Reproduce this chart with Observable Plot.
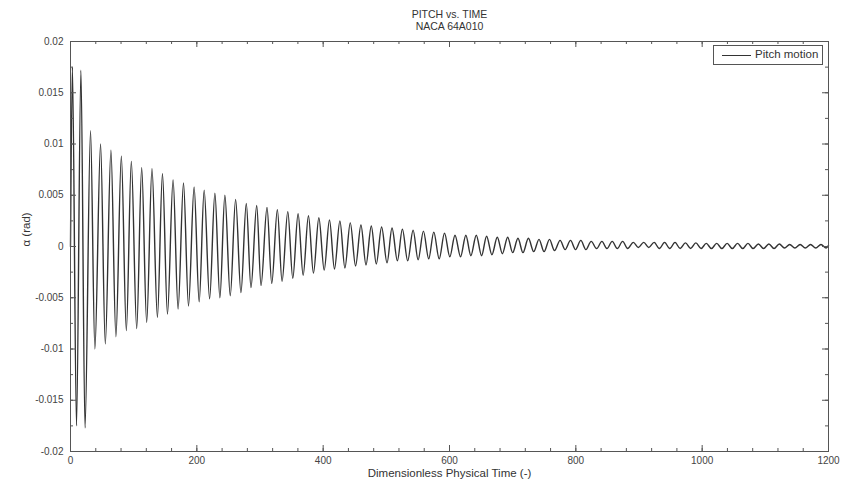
<!DOCTYPE html>
<html>
<head>
<meta charset="utf-8">
<script src="https://cdn.jsdelivr.net/npm/d3@7"></script>
<script src="https://cdn.jsdelivr.net/npm/@observablehq/plot@0.6"></script>
<style>
  html, body { margin: 0; padding: 0; background: #fff; }
  #wrap { position: relative; width: 846px; height: 485px; font-family: "Liberation Sans", Arial, sans-serif; }
  #legend { position: absolute; left: 713px; top: 45px; width: 110px; height: 20px; box-sizing: border-box;
            border: 1px solid #555; background: #fff; }
  #legend .sw { position: absolute; left: 8px; top: 9px; width: 29px; height: 0; border-top: 1.3px solid #333; }
  #legend .lb { position: absolute; left: 41px; top: 2px; font-size: 11.5px; color: #333; white-space: nowrap; }
</style>
</head>
<body>
<div id="wrap"></div>
<script>
// ---- text ----
const titleLines = ["PITCH vs. TIME", "NACA 64A010"];
const xLabel = "Dimensionless Physical Time (-)";
const yLabel = "\u03b1 (rad)";
const seriesName = "Pitch motion";

// ---- axes ----
const xTicks = [0, 200, 400, 600, 800, 1000, 1200];
const xTickLabels = ["0", "200", "400", "600", "800", "1000", "1200"];
const yTicks = [-0.02, -0.015, -0.01, -0.005, 0, 0.005, 0.01, 0.015, 0.02];
const yTickLabels = ["-0.02", "-0.015", "-0.01", "-0.005", "0", "0.005", "0.01", "0.015", "0.02"];

// ---- series: start/end and the extrema (peaks / troughs) ----
const startPoint = {t: 0, v: 0};
const endPoint = {t: 1200, v: 0.0001};
const peakTimes = [3, 16.5, 31.7, 47.6, 64.0, 80.5, 96.3, 112.7, 129.0, 145.6, 162.4, 178.9, 195.7, 211.6,
  228.6, 244.4, 261.4, 278.3, 294.8, 311.1, 327.5, 344.0, 360.3, 376.7, 393.2, 410.0, 426.5, 442.9,
  459.8, 476.2, 492.5, 509.0, 525.4, 542.4, 558.7, 575.1, 592.1, 608.7, 625.9, 642.4, 658.7, 675.7,
  692.1, 708.4, 724.9, 741.7, 758.3, 775.1, 791.6, 807.9, 824.3, 841.3, 857.6, 874.1, 891.0, 907.5,
  924.0, 940.5, 957.0, 973.5, 990.0, 1006.5, 1023.0, 1039.5, 1056.0, 1072.5, 1089.0, 1105.6, 1122.1,
  1138.6, 1155.1, 1171.6, 1188.1];
const peakValues = [0.0175, 0.0172, 0.0113, 0.0100, 0.0094, 0.0088, 0.0083, 0.0077, 0.0076, 0.0071,
  0.0065, 0.0062, 0.0058, 0.0055, 0.0052, 0.0050, 0.0046, 0.0042, 0.0040, 0.0038, 0.0036, 0.0034,
  0.0032, 0.0030, 0.0028, 0.0026, 0.0025, 0.0023, 0.0021, 0.0020, 0.0019, 0.0018, 0.0017, 0.0016,
  0.0015, 0.0014, 0.0013, 0.0011, 0.0011, 0.0011, 0.0010, 0.0009, 0.0009, 0.0008, 0.0008, 0.0007,
  0.0007, 0.0006, 0.0006, 0.0006, 0.0005, 0.0005, 0.0005, 0.0005, 0.0004, 0.0004, 0.0004, 0.0004,
  0.0004, 0.00035, 0.00035, 0.0003, 0.0003, 0.0003, 0.0003, 0.0003, 0.00025, 0.00025, 0.00025,
  0.0002, 0.0002, 0.0002, 0.0002];
const troughTimes = [9.5, 23, 38.6, 55.1, 71.9, 88.4, 104.8, 120.6, 137.6, 153.5, 170.3, 186.8, 203.7,
  220.2, 236.5, 252.9, 269.8, 285.7, 301.6, 318.6, 334.9, 351.9, 368.3, 384.6, 401.6, 417.9, 434.4,
  451.3, 467.8, 484.1, 501.1, 517.5, 533.8, 550.3, 567.1, 583.7, 600.5, 617.5, 633.8, 650.8, 667.1,
  683.7, 700.0, 716.3, 733.3, 749.7, 766.2, 783.0, 799.5, 815.9, 832.9, 849.2, 865.6, 882.1, 898.9,
  915.4, 932.2, 948.7, 965.2, 981.7, 998.2, 1014.7, 1031.2, 1047.7, 1064.2, 1080.7, 1097.2, 1113.8,
  1130.3, 1146.8, 1163.3, 1179.8, 1196.3];
const troughValues = [-0.0175, -0.0177, -0.0100, -0.0095, -0.0088, -0.0082, -0.0080, -0.0074, -0.0069,
  -0.0066, -0.0061, -0.0058, -0.0054, -0.0051, -0.0050, -0.0048, -0.0045, -0.0040, -0.0038, -0.0036,
  -0.0034, -0.0031, -0.0028, -0.0026, -0.0023, -0.0022, -0.0021, -0.0019, -0.0018, -0.0017, -0.0016,
  -0.0014, -0.0014, -0.0013, -0.0012, -0.0012, -0.0010, -0.0010, -0.0009, -0.0009, -0.0008, -0.0007,
  -0.0006, -0.0006, -0.0005, -0.0005, -0.0004, -0.0003, -0.0003, -0.0003, -0.0002, -0.0002, -0.0002,
  -0.0002, -0.0001, -0.0001, -0.0002, -0.0002, -0.0002, -0.0002, -0.0002, -0.0002, -0.0002, -0.0002,
  -0.0002, -0.0002, -0.0002, -0.0002, -0.00015, -0.00015, -0.00015, -0.00015, -0.00015];

// build the table for the line mark
const points = [startPoint]
  .concat(peakTimes.map((t, i) => ({t, v: peakValues[i]})))
  .concat(troughTimes.map((t, i) => ({t, v: troughValues[i]})))
  .concat([endPoint])
  .sort((a, b) => a.t - b.t);

const W = 846, H = 485;
const mL = 70, mR = 18, mT = 41, mB = 34;
const fw = W - mL - mR, fh = H - mT - mB;
const axisColor = "#555";
const xMinor = d3.range(0, 1201, 40);
const yMinor = d3.range(-8, 9).map(k => k * 0.0025);

const chart = Plot.plot({
  width: W, height: H,
  marginLeft: mL, marginRight: mR, marginTop: mT, marginBottom: mB,
  style: {fontFamily: "'Liberation Sans', Arial, sans-serif", background: "#fff"},
  x: {domain: [0, 1200], label: null},
  y: {domain: [-0.02, 0.02], label: null},
  marks: [
    Plot.line(points, {x: "t", y: "v", curve: "monotone-x", stroke: "#333", strokeWidth: 1.4}),
    Plot.frame({stroke: axisColor, strokeWidth: 1}),
    // inward minor ticks
    Plot.ruleX(xMinor, {x: d => d, insetTop: fh - 3, stroke: axisColor}),
    Plot.ruleX(xMinor, {x: d => d, insetBottom: fh - 3, stroke: axisColor}),
    Plot.ruleY(yMinor, {y: d => d, insetRight: fw - 3, stroke: axisColor}),
    Plot.ruleY(yMinor, {y: d => d, insetLeft: fw - 3, stroke: axisColor}),
    // inward major ticks
    Plot.ruleX(xTicks, {x: d => d, insetTop: fh - 6, stroke: axisColor}),
    Plot.ruleX(xTicks, {x: d => d, insetBottom: fh - 6, stroke: axisColor}),
    Plot.ruleY(yTicks, {y: d => d, insetRight: fw - 6, stroke: axisColor}),
    Plot.ruleY(yTicks, {y: d => d, insetLeft: fw - 6, stroke: axisColor}),
    // tick labels
    Plot.axisX(xTicks, {anchor: "bottom", tickSize: 0, tickPadding: 5, label: null,
      tickFormat: d => xTickLabels[xTicks.indexOf(d)], fontSize: 10, fill: "#444"}),
    Plot.axisY(yTicks, {anchor: "left", tickSize: 0, tickPadding: 7, label: null,
      tickFormat: d => yTickLabels[yTicks.indexOf(d)], fontSize: 10, fill: "#444"}),
    // titles and axis labels
    Plot.text([titleLines[0]], {frameAnchor: "top", dy: -31, fontSize: 10.5, fill: "#333"}),
    Plot.text([titleLines[1]], {frameAnchor: "top", dy: -19, fontSize: 10.5, fill: "#333"}),
    Plot.text([xLabel], {frameAnchor: "bottom", dy: 25, fontSize: 11.5, fill: "#333"}),
    Plot.text([yLabel], {frameAnchor: "left", dx: -44, rotate: -90, fontSize: 11.5, fill: "#333"})
  ]
});

const wrap = document.getElementById("wrap");
wrap.appendChild(chart);
const legend = document.createElement("div");
legend.id = "legend";
legend.innerHTML = '<div class="sw"></div><div class="lb"></div>';
legend.querySelector(".lb").textContent = seriesName;
wrap.appendChild(legend);
</script>
</body>
</html>
